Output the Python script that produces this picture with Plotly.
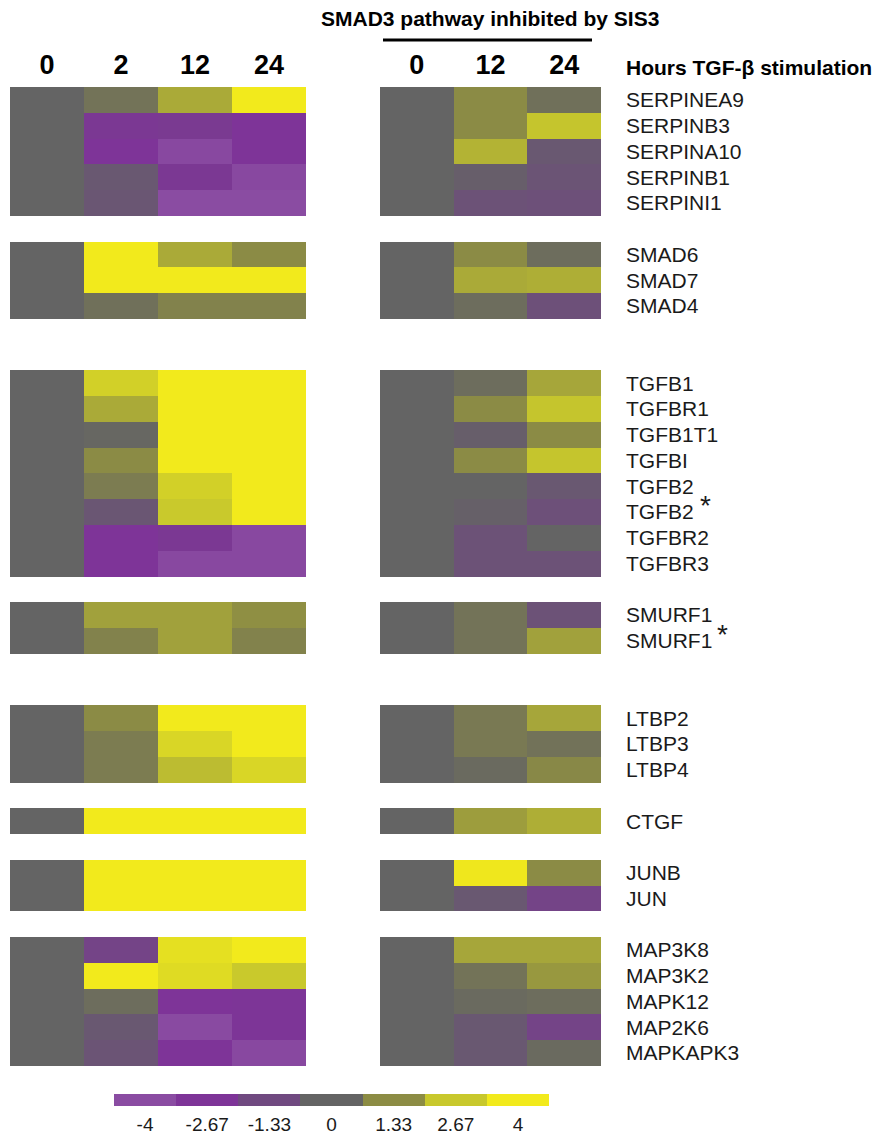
import plotly.graph_objects as go

# ---- data -------------------------------------------------------------
genes = [
    "SERPINEA9", "SERPINB3", "SERPINA10", "SERPINB1", "SERPINI1",
    "SMAD6", "SMAD7", "SMAD4",
    "TGFB1", "TGFBR1", "TGFB1T1", "TGFBI", "TGFB2", "TGFB2", "TGFBR2", "TGFBR3",
    "SMURF1", "SMURF1",
    "LTBP2", "LTBP3", "LTBP4",
    "CTGF",
    "JUNB", "JUN",
    "MAP3K8", "MAP3K2", "MAPK12", "MAP2K6", "MAPKAPK3",
]
# genes per block and blank rows separating consecutive blocks
block_sizes = [5, 3, 8, 2, 3, 1, 2, 5]
gap_rows = [1, 2, 1, 2, 1, 1, 1]
# duplicated probes marked with an asterisk
starred = ["TGFB2", "SMURF1"]

hours_ctrl = ["0", "2", "12", "24"]
hours_sis3 = ["0", "12", "24"]

# TGF-beta stimulation, fold change per time point
ctrl_0h = [0] * 29
ctrl_2h = [0.5, -2.4, -2.67, -0.6, -0.7,
           4, 4, 0.4,
           3.0, 2.0, 0.1, 1.3, 0.8, -0.7, -2.67, -2.67,
           1.8, 1.0,
           1.3, 0.8, 0.8,
           4,
           4, 4,
           -1.7, 4, 0.3, -0.6, -0.8]
ctrl_12h = [2.0, -2.3, -3.8, -2.4, -4,
            2.0, 4, 1.0,
            4, 4, 4, 4, 3.0, 2.7, -2.4, -3.8,
            1.8, 1.8,
            4, 3.2, 2.4,
            4,
            4, 4,
            3.6, 3.4, -2.67, -3.9, -2.67]
ctrl_24h = [4, -2.67, -2.67, -3.8, -4,
            1.3, 4, 1.0,
            4, 4, 4, 4, 4, 4, -3.8, -3.8,
            1.4, 1.0,
            4, 4, 3.2,
            4,
            4, 4,
            4, 2.7, -2.6, -2.6, -3.8]

# TGF-beta stimulation with SMAD3 inhibited by SIS3
sis3_0h = [0] * 29
sis3_12h = [1.3, 1.3, 2.2, -0.3, -0.9,
            1.3, 2.0, 0.3,
            0.3, 1.3, -0.3, 1.3, 0.0, -0.2, -0.9, -0.9,
            0.5, 0.5,
            0.7, 0.7, 0.2,
            1.7,
            3.9, -0.6,
            1.9, 0.5, 0.2, -0.6, -0.6]
sis3_24h = [0.4, 2.6, -0.6, -0.8, -1.0,
            0.3, 2.1, -1.0,
            1.9, 2.6, 1.3, 2.6, -0.6, -1.0, 0.0, -0.9,
            -0.9, 1.8,
            1.9, 0.45, 1.2,
            2.1,
            1.3, -1.7,
            1.9, 1.6, 0.3, -1.7, 0.2]

legend_vals = [-4, -2.67, -1.33, 0, 1.33, 2.67, 4]
legend_text = ["-4", "-2.67", "-1.33", "0", "1.33", "2.67", "4"]

# ---- style ------------------------------------------------------------
legend_colors = ["#8a4ca2", "#7e3498", "#704a80", "#646464",
                 "#8c8c44", "#c8c82c", "#f2ea1c"]
ZMIN, ZMAX = -4, 4
colorscale = [[(v - ZMIN) / (ZMAX - ZMIN), c] for v, c in zip(legend_vals, legend_colors)]
colorscale[0][0] = 0.0
colorscale[-1][0] = 1.0

FONT = "Liberation Sans, Arial, sans-serif"
NARROW = "Liberation Sans Narrow, Liberation Sans, Arial, sans-serif"
W, H = 875, 1136


def px_x(p):
    return p / W


def px_y(p):
    return 1 - p / H


# ---- build row layout with blank separator rows --------------------------
row_of_gene = []
row = 0
for b, size in enumerate(block_sizes):
    for _ in range(size):
        row_of_gene.append(row)
        row += 1
    if b < len(gap_rows):
        row += gap_rows[b]
n_rows = row


def matrix(columns):
    z = [[None] * len(columns) for _ in range(n_rows)]
    for gi, r in enumerate(row_of_gene):
        for ci, col in enumerate(columns):
            z[r][ci] = col[gi]
    return z


z_ctrl = matrix([ctrl_0h, ctrl_2h, ctrl_12h, ctrl_24h])
z_sis3 = matrix([sis3_0h, sis3_12h, sis3_24h])
rows = list(range(n_rows))

fig = go.Figure()
common = dict(colorscale=colorscale, zmin=ZMIN, zmax=ZMAX, showscale=False,
              hoverongaps=False)
fig.add_trace(go.Heatmap(z=z_ctrl, x=hours_ctrl, y=rows, xaxis="x", yaxis="y", **common))
fig.add_trace(go.Heatmap(z=z_sis3, x=hours_sis3, y=rows, xaxis="x2", yaxis="y2", **common))
fig.add_trace(go.Heatmap(z=[legend_vals], x=legend_text, y=[0], xaxis="x3", yaxis="y3", **common))

y_dom = [px_y(1066), px_y(87)]
y_range = [n_rows - 0.5, -0.5]
head_font = dict(family=NARROW, size=27, color="#000000", weight="bold")

fig.update_layout(
    width=W, height=H,
    margin=dict(l=0, r=0, t=0, b=0),
    paper_bgcolor="white", plot_bgcolor="white",
    font=dict(family=FONT, color="#1a1a1a"),
    xaxis=dict(domain=[px_x(10), px_x(306)], side="top", type="category",
               showgrid=False, zeroline=False, showline=False, ticks="",
               tickfont=head_font, ticklabelstandoff=7),
    yaxis=dict(domain=y_dom, range=y_range, showgrid=False, zeroline=False,
               showline=False, showticklabels=False, ticks=""),
    xaxis2=dict(domain=[px_x(380), px_x(601)], side="top", type="category",
                anchor="y2", showgrid=False, zeroline=False, showline=False,
                ticks="", tickfont=head_font, ticklabelstandoff=7),
    yaxis2=dict(domain=y_dom, range=y_range, anchor="x2", side="right",
                showgrid=False, zeroline=False, showline=False, ticks="",
                tickmode="array",
                tickvals=row_of_gene, ticktext=genes,
                tickfont=dict(family=FONT, size=21, color="#1a1a1a"),
                ticklabelstandoff=24),
    xaxis3=dict(domain=[px_x(114), px_x(549)], anchor="y3", type="category",
                showgrid=False, zeroline=False, showline=False, ticks="",
                tickfont=dict(family=FONT, size=19, color="#1a1a1a"),
                ticklabelstandoff=5),
    yaxis3=dict(domain=[px_y(1106), px_y(1094)], anchor="x3", showgrid=False,
                zeroline=False, showline=False, showticklabels=False),
)

# panel titles
fig.add_annotation(text="<b>SMAD3 pathway inhibited by SIS3</b>",
                   xref="paper", yref="paper", x=px_x(490), y=px_y(18),
                   xanchor="center", yanchor="middle", showarrow=False,
                   font=dict(family=FONT, size=21, color="#000000"))
fig.add_shape(type="line", xref="paper", yref="paper",
              x0=px_x(383), x1=px_x(592), y0=px_y(40), y1=px_y(40),
              line=dict(color="#000000", width=3))
fig.add_annotation(text="<b>Hours TGF-β stimulation</b>",
                   xref="paper", yref="paper", x=px_x(624), y=px_y(67),
                   xanchor="left", yanchor="middle", showarrow=False,
                   font=dict(family=FONT, size=21, color="#000000"))

# asterisks between duplicated probe rows
star_x = {"TGFB2": 705, "SMURF1": 722}
for name in starred:
    idx = [i for i, gname in enumerate(genes) if gname == name]
    mid = (row_of_gene[idx[0]] + row_of_gene[idx[-1]]) / 2 + 0.25
    fig.add_annotation(text="*", xref="paper", yref="y2", x=px_x(star_x[name]), y=mid,
                       xanchor="center", yanchor="middle", showarrow=False,
                       font=dict(family=FONT, size=28, color="#1a1a1a"))

fig.write_html("out.html")
